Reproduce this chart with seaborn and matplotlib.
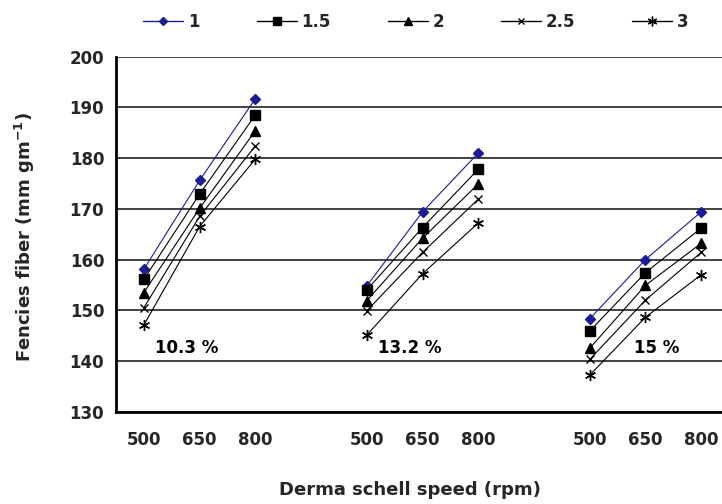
import pandas as pd
import numpy as np
import matplotlib
matplotlib.use('Agg')
import matplotlib.pyplot as plt
import seaborn as sns
from matplotlib.ticker import FixedLocator
from matplotlib.lines import Line2D

sns.set_style('white')
plt.rcParams['font.family'] = 'DejaVu Sans'
plt.rcParams['font.weight'] = 'bold'

# x categories (blank slots separate the three groups)
tick_labels = ['500', '650', '800', '', '500', '650', '800', '', '500', '650', '800']
groups = ['10.3 %', '13.2 %', '15 %']
series = ['1', '1.5', '2', '2.5', '3']

# values per series, one list per group (500, 650, 800 rpm)
s_1 = [[158.1, 175.6, 191.7], [154.8, 169.4, 181.0], [148.3, 160.0, 169.4]]
s_1_5 = [[156.1, 172.9, 188.5], [154.0, 166.3, 177.8], [145.9, 157.4, 166.2]]
s_2 = [[153.5, 170.1, 185.4], [151.9, 164.2, 174.9], [142.5, 154.9, 163.2]]
s_2_5 = [[150.5, 168.5, 182.4], [149.9, 161.4, 171.9], [140.3, 152.0, 161.4]]
s_3 = [[147.1, 166.5, 179.8], [145.1, 157.2, 167.2], [137.2, 148.6, 157.0]]

rows = []
for name, vals in zip(series, [s_1, s_1_5, s_2, s_2_5, s_3]):
    for g, gvals in enumerate(vals):
        for k, v in enumerate(gvals):
            rows.append({'pos': 4 * g + k, 'value': v, 'series': name, 'group': groups[g]})
df = pd.DataFrame(rows)

palette = {'1': '#1c1c96', '1.5': 'black', '2': 'black', '2.5': 'black', '3': 'black'}
markers = {'1': 'D', '1.5': 's', '2': '^', '2.5': 'x', '3': (6, 2, 0)}
msizes = {'1': 5, '1.5': 7, '2': 7, '2.5': 6, '3': 8}

fig = plt.figure(figsize=(7.22, 5.04), dpi=100)
ax = fig.add_axes([116 / 722, 1 - 411.7 / 504, 613 / 722, 355 / 504])

for name in series:
    sub = df[df['series'] == name]
    sns.lineplot(data=sub, x='pos', y='value', units='group', estimator=None,
                 color=palette[name], marker=markers[name], markersize=msizes[name],
                 markeredgecolor=palette[name], markerfacecolor=palette[name],
                 markeredgewidth=1.0, linewidth=0.8, ax=ax, legend=False)

ax.set_xlim(-0.5, 10.5)
ax.set_ylim(130, 200)
ax.set_yticks(np.arange(130, 201, 10))
ax.set_xticks(range(len(tick_labels)))
ax.set_xticklabels(tick_labels)
ax.xaxis.set_minor_locator(FixedLocator(np.arange(-0.5, 10.6, 1)))
ax.tick_params(axis='x', which='major', length=0, pad=14, labelsize=12)
ax.tick_params(axis='x', which='minor', length=5, width=1.5, direction='out', color='black')
ax.tick_params(axis='y', which='major', length=5, width=1.5, direction='out', labelsize=12, color='black')
for lab in ax.get_xticklabels() + ax.get_yticklabels():
    lab.set_fontweight('bold')

ax.grid(axis='y', color='#222222', linewidth=1.2)
ax.set_axisbelow(True)
for side in ['top', 'right']:
    ax.spines[side].set_visible(False)
for side in ['left', 'bottom']:
    ax.spines[side].set_color('black')
    ax.spines[side].set_linewidth(2)

ax.set_xlabel('')
ax.set_ylabel('')
fig.text(410 / 722, 1 - 490 / 504, 'Derma schell speed (rpm)', ha='center', va='center',
         fontsize=13, fontweight='bold')
fig.text(25 / 722, 1 - 237 / 504, r'Fencies fiber (mm gm$^{\mathbf{-1}}$)', ha='center', va='center',
         rotation=90, fontsize=13, fontweight='bold')

for g, xpos in zip(groups, [0.77, 4.78, 9.2]):
    ax.text(xpos, 142.6, g, ha='center', va='center', fontsize=12, fontweight='bold', color='black')

handles = [Line2D([0], [0], color=palette[n], marker=markers[n], markersize=msizes[n] - 1,
                  markeredgecolor=palette[n], markerfacecolor=palette[n], linewidth=1.0)
           for n in series]
fig.legend(handles, series, loc='center', bbox_to_anchor=(416 / 722, 1 - 22 / 504), ncol=5,
           frameon=False, handlelength=2.4, columnspacing=3.4, handletextpad=0.3,
           prop={'weight': 'bold', 'size': 12})

fig.savefig('out.png', dpi=100)
